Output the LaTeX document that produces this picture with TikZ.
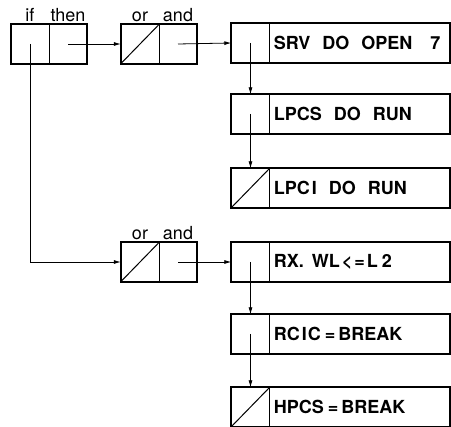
\documentclass[tikz,border=0pt]{standalone}
\usepackage{fontspec}
\setmainfont{TeX Gyre Heros}
\usetikzlibrary{arrows.meta,positioning}

\begin{document}
\begin{tikzpicture}[
  x=1pt, y=-1pt,
  cell/.style={rectangle, inner sep=0pt, minimum width=38pt, minimum height=39pt},
  txtcell/.style={rectangle, inner xsep=4pt, inner ysep=0pt, text width=172pt, minimum height=39pt, align=left,
    font=\fontsize{18}{20}\selectfont\bfseries, execute at begin node={\spaceskip=12pt\relax}},
  frame/.style={line width=2pt},
  divider/.style={line width=1pt},
  arrow/.style={line width=0.8pt, -{Latex[length=7pt,width=4pt]}},
  tag/.style={font=\fontsize{18}{20}\selectfont, inner sep=0pt, anchor=base}
]
  \useasboundingbox (0,0) rectangle (451,427);

  % --- if / then ---
  \node[cell] (if)   at (30,44) {};
  \node[cell] (then) at (68,44) {};
  \draw[frame] (if.north west) rectangle (then.south east);
  \draw[divider] (if.north east) -- (if.south east);
  \node[tag] (iftag)   at (if.center |- 0,22)   {if};
  \node[tag] (thentag) at (then.center |- 0,22) {then};

  % --- or / and (oben) ---
  \node[cell] (orA)  at (140,44) {};
  \node[cell] (andA) at (178,44) {};
  \draw[frame] (orA.north west) rectangle (andA.south east);
  \draw[divider] (orA.north east) -- (orA.south east);
  \draw[divider] (orA.south west) -- (orA.north east);
  \node[tag] (ortagA)  at (orA.center |- 0,22)  {or};
  \node[tag] (andtagA) at (andA.center |- 0,22) {and};

  % --- or / and (unten) ---
  \node[cell] (orB)  at (140,262) {};
  \node[cell] (andB) at (178,262) {};
  \draw[frame] (orB.north west) rectangle (andB.south east);
  \draw[divider] (orB.north east) -- (orB.south east);
  \draw[divider] (orB.south west) -- (orB.north east);
  \node[tag] (ortagB)  at (orB.center |- 0,240)  {or};
  \node[tag] (andtagB) at (andB.center |- 0,240) {and};

  % --- Aktionen zu or/and oben ---
  \node[cell] (srvc) at (250.5,43) {};
  \node[txtcell, right=0pt of srvc] (srv) {SRV DO OPEN\kern6pt{} 7};
  \node[cell] (lpcsc) at (250.5,114) {};
  \node[txtcell, right=0pt of lpcsc] (lpcs) {LPCS DO RUN};
  \node[cell] (lpcic) at (250.5,188) {};
  \node[txtcell, right=0pt of lpcic] (lpci) {LPC\kern2pt I DO RUN};

  % --- Aktionen zu or/and unten ---
  \node[cell] (rxc) at (250.5,262) {};
  \node[txtcell, right=0pt of rxc] (rx) {RX.\kern-4pt{} WL\kern2pt<\kern2pt=\kern2pt L\kern4pt 2};
  \node[cell] (rcicc) at (250.5,334) {};
  \node[txtcell, right=0pt of rcicc] (rcic) {RC\kern2pt I\kern1pt C\kern4pt=\kern3pt BREAK};
  \node[cell] (hpcsc) at (250.5,407) {};
  \node[txtcell, right=0pt of hpcsc] (hpcs) {HPCS\kern4pt=\kern3pt BREAK};

  % Rahmen der Aktionen
  \foreach \c/\t in {srvc/srv, lpcsc/lpcs, lpcic/lpci, rxc/rx, rcicc/rcic, hpcsc/hpcs} {
    \draw[frame] (\c.north west) rectangle (\t.south east);
    \draw[divider] (\c.north east) -- (\c.south east);
  }
  % letzte Elemente (Schraegstrich)
  \draw[divider] (lpcic.south west) -- (lpcic.north east);
  \draw[divider] (hpcsc.south west) -- (hpcsc.north east);

  % Zeiger
  \draw[arrow] (then.center) -- (orA.west);
  \draw[arrow] (andA.center) -- (srvc.west);
  \draw[arrow] (srvc.center) -- (lpcsc.north);
  \draw[arrow] (lpcsc.center) -- (lpcic.north);
  \draw[arrow] (if.center) |- (orB.west);
  \draw[arrow] (andB.center) -- (rxc.west);
  \draw[arrow] (rxc.center) -- (rcicc.north);
  \draw[arrow] (rcicc.center) -- (hpcsc.north);
\end{tikzpicture}
\end{document}
